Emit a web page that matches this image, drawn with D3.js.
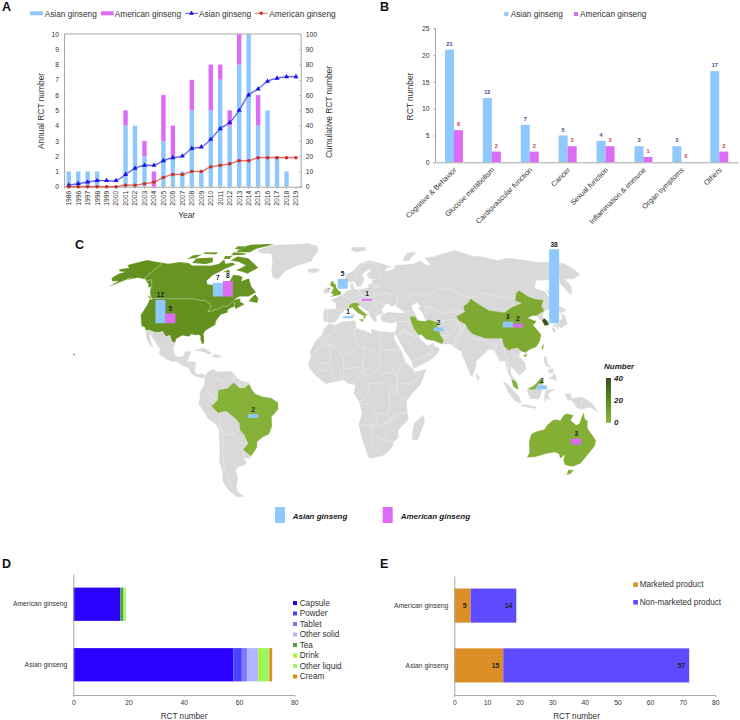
<!DOCTYPE html>
<html><head><meta charset="utf-8">
<script src="https://cdn.jsdelivr.net/npm/d3@7/dist/d3.min.js"></script>
<style>
html,body{margin:0;padding:0;background:#fff}
svg{display:block}
text{font-family:"Liberation Sans",Arial,sans-serif;fill:#333}
</style></head><body><svg id="c" width="740" height="720"></svg>
<script>
// ---------- Panel A data ----------
const years=["1986","1996","1997","1998","1999","2000","2001","2002","2003","2004","2005","2006","2007","2008","2009","2010","2011","2012","2013","2014","2015","2016","2017","2018","2019"];
const annualAsian=[1,1,1,1,0,0,4,4,2,0,3,2,1,5,1,5,7,4,8,10,4,5,2,1,0];
const annualAmerican=[0,0,0,0,0,0,1,0,1,1,3,2,0,2,0,3,1,1,2,0,2,0,0,0,0];
const cumAsian=[1,2,3,4,4,4,8,12,14,14,17,19,20,25,26,31,38,42,50,60,64,69,71,72,72];
const cumAmerican=[0,0,0,0,0,0,1,1,2,3,6,8,8,10,10,13,14,15,17,17,19,19,19,19,19];
// ---------- Panel B data ----------
const fields=["Cognitive & Behavior","Glucose metabolism","Cardiovascular function","Cancer","Sexual function","Inflammation & immune","Organ symptoms","Others"];
const fieldAsian=[21,12,7,5,4,3,3,17];
const fieldAmerican=[6,2,2,3,3,1,0,2];
// ---------- Panel C data ----------
const siteNames=["USA","Canada","UK","Italy","Italy ","Brazil","Iran","China","South Korea","Malaysia","Australia"];
const siteAsian=[12,7,5,1,0,2,2,3,38,2,0];
const siteAmerican=[5,8,0,0,1,0,0,2,0,0,3];
const siteLon=[-106.6,-77.1,2.9,5.9,18.7,-49.8,60.7,106.5,132.8,117.6,142.2];
const siteLat=[36,50.2,54.5,38.7,47.9,-13.6,31.8,33.8,36,1.4,-27.5];
// ---------- Panel D data ----------
const species=["American ginseng","Asian ginseng"];
const forms=["Capsule","Powder","Tablet","Other solid","Tea","Drink","Other liquid","Cream"];
const formAmerican=[17,0,0,0,1,0,1,0];
const formAsian=[58,3,2,4,0,1,3,1];
const formColors=["#2a00ff","#4b42ff","#7c7aff","#b2b5ff","#4f9e4a","#a6f51e","#9af763","#e08a20"];
// ---------- Panel E data ----------
const products=["Marketed product","Non-marketed product"];
const productAmerican=[5,14];
const productAsian=[15,57];
const productColors=["#dc8f26","#5f4bff"];
// ---------- Map outlines (lon, lat) ----------
const usa=[[-123,49],[-95.2,49],[-94.6,48.7],[-92,48.3],[-89.5,48],[-88.4,48.3],[-84.8,46.8],[-83.5,46],[-82.5,45.3],[-82.4,43],[-83,42],[-79,42.8],[-79,43.3],[-76.5,43.6],[-75,45],[-71.5,45],[-70.3,46.2],[-69.2,47.4],[-67.8,47],[-67,44.9],[-70,43.7],[-70.7,42.7],[-70,41.7],[-74,40.6],[-75.5,38],[-75.9,36.6],[-75.5,35.2],[-77.9,33.9],[-81,32],[-81.4,30.5],[-80.1,26.8],[-80.4,25.2],[-81.2,25.2],[-82.7,27.8],[-82.9,29.2],[-84.2,30],[-85.5,29.7],[-89,30.3],[-89.4,29],[-91,29.2],[-94,29.6],[-97.2,27.8],[-97.2,25.9],[-99.3,26.4],[-101.4,29.8],[-103.2,29],[-104.7,30],[-106.5,31.8],[-108.2,31.4],[-111,31.3],[-114.8,32.5],[-117.1,32.5],[-118.5,34],[-120.6,34.5],[-122,36.8],[-124.3,40.3],[-124.1,43],[-124,46.3],[-124.7,48.4]];
const alaska=[[-141,69.6],[-141,60.3],[-137,59],[-135,59.6],[-130,55.9],[-131.5,55],[-134,57],[-137,58.5],[-140,59.8],[-146,60.7],[-149,60],[-152,59.2],[-151,61],[-154,59],[-158,56.5],[-163,54.8],[-160,56],[-157.5,58.7],[-162,58.7],[-165,60.5],[-164,63],[-161,64],[-166,64.5],[-168,65.7],[-162,66.5],[-166.5,68.3],[-160,70.3],[-156.5,71.3],[-150,70.5]];
const hawaii=[[-156.2,20],[-154.8,19.8],[-155.6,18.9]];
const canada=[[-141,69.6],[-135,69],[-128,70],[-120,69.5],[-115,68],[-108,68],[-100,68],[-95,69],[-94,71.8],[-90,69],[-85,69.7],[-81.5,68.5],[-87,66],[-93,62],[-94.5,59],[-92.5,57],[-88,56.5],[-82.5,55],[-82,52.8],[-79.5,51.3],[-79,54.5],[-76.7,56.5],[-78,59],[-78,62.4],[-73,62],[-70,61],[-69.5,58.7],[-65,60.3],[-61,56],[-56,52.5],[-60,50.2],[-66,50.2],[-69,48.5],[-65,49.2],[-64.5,47.5],[-61,46],[-65.7,43.5],[-67,44.9],[-67.8,47],[-69.2,47.4],[-70.3,46.2],[-71.5,45],[-75,45],[-76.5,43.6],[-79,43.3],[-79,42.8],[-83,42],[-82.4,43],[-82.5,45.3],[-83.5,46],[-84.8,46.8],[-88.4,48.3],[-89.5,48],[-92,48.3],[-94.6,48.7],[-95.2,49],[-123,49],[-125,50],[-128,52.5],[-130,55],[-130,55.9],[-135,59.6],[-137,59],[-141,60.3]];
const canadaIslands=[
[[-62,66.5],[-68,63],[-72,64],[-78,65],[-73,68],[-80,70],[-88,71],[-85,73.7],[-75,72.5],[-68,69.5]],
[[-117,69.5],[-105,68.7],[-101,70],[-105,73],[-118,72.5]],
[[-125,72],[-119,72.5],[-117,75],[-124,74.5]],
[[-90,76.5],[-78,76.5],[-75,79],[-62,82.5],[-70,83],[-85,82.3],[-90,80]],
[[-92,74.5],[-80,74.7],[-80,75.7],[-92,76.5]],
[[-117,75.5],[-105,75],[-106,76.5],[-118,76.5]],
[[-95,79],[-87,78],[-87,81],[-95,81]],
[[-95,72],[-90,72],[-90,74],[-96,74]],
[[-87,64],[-81,63.5],[-84,65.5]],
[[-59,47.7],[-53,46.7],[-53,49],[-56,51.5],[-57.5,50]],
[[-128,50.7],[-123.5,48.4],[-125,50]]];
const mexicoCentral=[[-117.1,32.5],[-114.8,32.5],[-111,31.3],[-108.2,31.4],[-106.5,31.8],[-104.7,30],[-103.2,29],[-101.4,29.8],[-99.3,26.4],[-97.2,25.9],[-97.8,22.4],[-96,19],[-94,18.2],[-91,18.7],[-90.5,21],[-87,21.5],[-87.8,18.3],[-88.7,15.8],[-84,15.9],[-83.3,14.9],[-83.7,11],[-82,9],[-79.5,9.6],[-77.3,8.6],[-78,7.5],[-80,7.3],[-81.7,8],[-83,8.3],[-85.7,10],[-87.6,13],[-91.5,14],[-94.5,16.2],[-97,15.9],[-101.5,17.5],[-105.5,20],[-105.5,22.5],[-109,26],[-112.5,29.5],[-114.7,31.7],[-112,26.5],[-109.7,23],[-112,24.7],[-115,28]];
const greenland=[[-73,78.2],[-68,76],[-58,75.5],[-53,70],[-51,65],[-48,61],[-43.5,59.9],[-40,65],[-32,68],[-22,70.5],[-21,74],[-18,77],[-20,81],[-30,83.5],[-45,82.5],[-60,82],[-65,81],[-68,79.5]];
const southAmerica=[[-77.3,8.6],[-75.5,10.7],[-72,12],[-71.5,10.8],[-68,10.6],[-62,10.7],[-60,8.5],[-57,6],[-52,4.8],[-50,1],[-48,-1],[-44,-2.5],[-39,-3.2],[-35,-5.5],[-35,-9],[-39,-13],[-39,-18],[-41,-22],[-45,-23.7],[-48.5,-26],[-49,-29],[-53.4,-33.7],[-55,-35],[-58.4,-34.3],[-57,-36.5],[-58,-38.3],[-62,-39],[-65,-41],[-65,-45],[-68,-50],[-68.5,-53],[-65,-55],[-70,-55.5],[-74,-52],[-75.5,-47],[-73.5,-42],[-73.5,-37],[-71.5,-30],[-70.3,-20],[-71.5,-17.2],[-76,-14],[-81,-6],[-80,-2.5],[-80,0],[-78.5,2.5],[-77.5,4],[-77.5,7]];
const brazil=[[-51.6,4.2],[-50,1],[-48,-1],[-44,-2.5],[-39,-3.2],[-35,-5.5],[-35,-9],[-39,-13],[-39,-18],[-41,-22],[-45,-23.7],[-48.5,-26],[-49,-29],[-53.4,-33.7],[-57.5,-30.2],[-54,-27],[-54.6,-25.5],[-55.7,-22.4],[-58,-20],[-58,-16.3],[-60.3,-13.7],[-65.3,-10],[-70,-11],[-73.7,-7.5],[-70,-4.3],[-69.5,1],[-67,1.5],[-64,2],[-60.7,5],[-57,2],[-54,2.3]];
const africa=[[-5.9,35.8],[-2,35.1],[3,36.9],[10,37.3],[11,33.2],[15,32.3],[19.8,30.5],[20,32.8],[25,31.7],[32,31.2],[34.2,31.3],[33,28],[35.5,24],[37.2,21],[39.3,15.5],[43.2,12],[44,10.5],[51,11.9],[47.5,4],[42,-1.5],[39.3,-5],[40.7,-14.5],[35,-20],[35.5,-24],[32.7,-26],[32.5,-28.5],[28,-33],[20,-34.8],[18.4,-34],[15,-27],[11.8,-17],[13.8,-11],[12,-5],[9,-1],[9.7,3.8],[6,4.3],[3,6.4],[-3,5.2],[-7.5,4.4],[-13,8.5],[-17,12.5],[-17.5,14.7],[-16,19],[-17,21],[-13,27.5],[-9.8,30],[-9,33]];
const eurasia=[[-9,37],[-6,36.5],[-5.4,36],[-2,36.7],[0,38.7],[0.3,40],[3.2,41.9],[3.5,43.3],[6,43],[8.8,44.4],[10.3,43],[12.5,41.3],[15.7,40],[16,38],[16.9,39],[17,40.3],[18.5,40.2],[16,41.8],[13.5,43.6],[12.3,45.3],[13.7,45.7],[15,44.5],[19,42],[19.4,40.4],[21,38.3],[22.9,36.5],[24,37.8],[23,39.5],[26,40.8],[29,41.2],[26.5,40],[26.3,38.5],[27.5,36.8],[30.5,36.3],[33,36.2],[36,36.8],[35.8,34.5],[34.2,31.3],[34.9,29.5],[39,21.5],[42.7,16.5],[43.5,12.7],[45,12.8],[52,16],[55.2,17.5],[58.5,20.5],[59.8,22.5],[56.5,24.5],[56.3,26],[54,24.2],[51.6,25],[51,26],[50,26.5],[48,29.5],[50,30],[52.5,27.5],[56.5,27],[61.5,25.1],[67,25],[68.5,23.5],[72.7,21],[72.8,19],[74.5,14.5],[76.5,9],[77.5,8],[80.2,13.5],[80.3,15.8],[85,19.5],[88,21.8],[91,22.5],[92.3,20.7],[94.5,16],[97.5,16.5],[98.5,10],[100.5,6],[103.5,1.4],[104,2],[103,5.5],[100,9.5],[100.5,13.4],[103,11],[105,8.7],[109.2,12],[108.8,15.5],[105.8,19],[107.8,21.5],[110,20.5],[113,22.2],[117,23.5],[120,26.5],[122,30],[120.8,32.5],[119.3,35],[122.5,37],[120,38],[118,38.8],[121.5,40],[124.3,40],[125.3,37.7],[126.5,37.5],[126.3,34.7],[129.2,35.2],[129.4,37],[127.5,39.5],[129.8,41.5],[130.8,42.4],[135,43.5],[140.4,48.5],[140.5,53],[135.5,54.7],[142,59.2],[151,59.3],[155,59.5],[163,62],[156.7,57.5],[156,52],[156.7,51],[162.5,56.2],[163.5,59.8],[170,60],[179,62.5],[180,65],[180,69],[170,70],[160,69.7],[150,71.5],[140,72.7],[130,71],[120,73.5],[113,74],[105,77.7],[90,75.5],[80,73.5],[72,72.8],[73,68],[68,68.7],[67,71],[60,69],[54,68.5],[44,68],[44,66.5],[40,65],[35,64.3],[37,66.3],[41,67],[33,69.5],[25,71],[16,68.5],[12,65],[5,62],[5.5,59],[8,58],[10.8,59],[12.5,56.5],[13,55.4],[16.5,56.5],[18.5,60],[17.5,62.5],[21,64.5],[24,65.8],[25,65],[21.5,63],[21.5,61],[23,60],[29,60],[24,59.3],[24,57.5],[21,57],[21,55],[18.5,54.7],[14,54],[10.8,54],[10,57.5],[8.3,57],[8.7,54],[5,53],[3.5,51.3],[1.6,50.8],[-1.5,49.5],[-5,48.5],[-1.5,46.5],[-1.5,43.5],[-9,43.3],[-9.5,38.7]];
const greyIslands=[
[[-84.9,21.9],[-80,23],[-74.2,20.2],[-77.7,19.9],[-78,20.7]],
[[-74.4,18.5],[-72.8,19.9],[-68.4,18.6],[-71,18]],
[[49.3,-12],[50.4,-15.5],[47,-25],[44,-25],[43.5,-21],[44.5,-16.2]],
[[-10,52],[-6.2,52.2],[-6,53.5],[-5.5,54.5],[-8,55.2],[-10,54]],
[[-24,65.5],[-18,66.3],[-14,65],[-18,63.4],[-22.5,64]],
[[8.2,41],[9.7,41],[9.5,39],[8.5,39]],
[[109,1],[109.6,1.8],[113,3.3],[115.5,5.5],[117,7],[119,5.2],[117.8,1],[116,-3.7],[111,-3.5],[110,-1.5]],
[[95.3,5.6],[98,4],[104,-2],[106,-5.8],[102.3,-4.8],[98,0]],
[[105.3,-6.8],[108.5,-6.7],[114.5,-7.8],[114.5,-8.7],[106.5,-7.4]],
[[119.5,-5.5],[119,-2.5],[120,0.8],[125,1.5],[121,-1],[122.5,-4.5],[120.5,-3]],
[[131,-1],[134,-0.8],[135,-3.3],[141,-2.6],[147,-6],[150.7,-10.5],[146,-8],[141,-9],[138,-8],[135,-4.5],[132.5,-4]],
[[120.3,16],[120.7,18.5],[122.2,18.4],[122,15],[124,13],[120.7,13.8]],
[[122,7],[125.5,9.7],[126.5,7],[125.5,5.7],[124,7]],
[[122,11.7],[125,12.4],[125,10.3],[122.5,9.5]],
[[79.8,8.5],[80.2,9.8],[81.8,7.5],[80.6,6]],
[[130.9,34],[133,35.5],[136,35.8],[137.3,37.5],[139.5,38.5],[140.3,41.3],[141.5,40.5],[142,39.5],[141,37],[140.8,35.7],[138.5,34.7],[135.8,33.5],[135,34.6]],
[[130,33.5],[131.8,33.5],[131.4,31.4],[130.3,31.2]],
[[132.4,33.5],[134.5,34.2],[134.2,33.3]],
[[140,41.5],[141.5,45.4],[145.3,43.4],[143.2,42]],
[[142,46],[143.5,49],[143,54.3],[142,53.5]],
[[52,71],[57,70.7],[68,76.5],[60,76]],
[[12,78],[16,76.7],[25,78],[25,80],[12,80]]];
const water=[
[[28,41.5],[27.7,43],[30.5,46],[33,46],[33,45],[36,45],[38,47],[37,45],[41.5,42],[41.5,41.5],[36,41.5],[32,42],[29,41.2]],
[[47,45],[51,47],[53,45],[51,44.5],[53,41.5],[54,37],[50,37.3],[49,39],[47.5,43]]];
const uk=[[[-5.5,50],[1.4,51.2],[1.7,52.7],[0,53.5],[-1.5,55],[-2,57],[-4,57.8],[-3,58.6],[-5,58.6],[-6,56.5],[-3.3,54.8],[-4.5,53.2],[-5,51.7],[-3,51.4]],[[-7.5,55],[-5.5,54.5],[-7,54.1]]];
const italy=[[[6.7,45],[7,43.8],[8.8,44.4],[10.3,43],[12.5,41.3],[15.7,40],[16,38],[16.9,39],[17,40.3],[18.5,40.2],[16,41.8],[13.5,43.6],[12.3,45.3],[13.7,45.7],[13.5,46.5],[10.5,47],[8,46.3]],[[12.5,38],[15.6,38.2],[15.2,36.7]]];
const iran=[[44.5,39.5],[48,39.5],[49,37.5],[54,37],[56,38],[61,36.5],[60.7,33.5],[61.5,29.5],[63,27],[61.5,25.1],[56.5,27],[52.5,27.5],[50,30],[48,30],[46,33],[45,36]];
const china=[[[73.7,39.5],[80,42],[80.5,45],[85,47],[87.5,49.2],[91,46],[96,42.7],[105,41.7],[111.5,44.5],[119.5,46.7],[116,47.8],[120,52],[123.5,53.5],[127,50],[130.5,48.7],[135,48.3],[131,45],[130.8,42.4],[128,41.5],[124.3,40],[121.5,40],[118,38.8],[120,38],[122.5,37],[119.3,35],[120.8,32.5],[122,30],[120,26.5],[117,23.5],[113,22.2],[110,20.5],[107.8,21.5],[106,23],[102,22.5],[101,21.5],[98,24],[98,28],[92,28],[88,28],[81,30.3],[78.8,32.5],[78,35.5],[74.5,37.3]],[[108.7,19.3],[110.5,20],[111,19.6],[109.5,18.2]],[[120.2,23],[121.5,25.2],[121.8,24.6],[120.9,22]]];
const southKorea=[[126.2,37.7],[128.4,38.5],[129.4,37],[129.2,35.2],[126.3,34.7]];
const malaysia=[[[100.2,6.5],[102,6.2],[103.5,4.5],[104,1.5],[103,1.6],[101,3]],[[109.6,1.8],[113,3.3],[115.5,5.5],[117,7],[119,5.2],[117.5,4.2],[115.5,4],[114,1.5],[111,1]]];
const australia=[[[113.7,-22.5],[114.2,-21.8],[116.8,-20.6],[121,-19.6],[122.3,-17.3],[125.5,-14.5],[127.8,-14.5],[129.5,-15],[130.8,-12.5],[132.6,-11.3],[136.8,-12.2],[135.5,-14.8],[139.3,-17.4],[141,-16.5],[141.7,-12.9],[142.5,-10.7],[143.8,-14.3],[145.5,-15],[146.3,-19],[149.5,-22],[153.2,-25.5],[153.5,-28.5],[150.8,-35],[150,-37.5],[146.4,-39],[143.5,-38.8],[140.5,-38],[138.2,-35.5],[137.7,-33],[135.8,-34.8],[134,-32.5],[131,-31.5],[126,-32.3],[124,-33],[120,-34],[115.2,-34.3],[115.7,-31.8],[113.5,-26]],[[144.7,-40.8],[148.3,-40.9],[148,-43],[146,-43.5]]];
const borders=[
[[-72,12],[-72.5,7.5],[-67.5,6],[-67,1.5]],[[-80,-3.5],[-75.5,-1],[-70,-4.3]],[[-69,-11],[-69,-16],[-70,-18]],[[-70,-18],[-67.5,-22.8],[-63,-22],[-58,-20]],[[-69,-18],[-68.5,-24],[-70.5,-32],[-71.5,-40],[-72,-50],[-68.5,-52.5]],[[-62.5,-22],[-58,-27],[-54.6,-25.5]],[[-58,-34],[-58,-30.2]],[[-60.7,5],[-60,8.5]],[[-57,6],[-57,2]],[[-54,5.5],[-54,2.3]],[[-78,0.8],[-75,0],[-70,-4.3]],
[[25,31.7],[25,22]],[[25,22],[37,22]],[[24,20],[15,23],[12,23.5],[9.5,30],[10,33.5]],[[-8.7,27.5],[-5,25],[3,19],[12,23.5]],[[-8.7,27.5],[-13,27.5]],[[-1.5,32],[-2,35]],[[-8.7,28],[-1.5,32]],[[-17,21],[-13,21],[-13,23],[-5,25]],[[-12,15],[-5,15.5],[-5,25]],[[3,19],[3,12],[14,13],[15.5,23]],[[24,20],[24,13],[22,11],[15.5,8],[14,13]],[[24,10],[34,10],[37,15],[39,15]],[[3,6.4],[3,12]],[[9,4.3],[14,11]],[[15,4],[27,5]],[[12.5,-6],[17,-6],[22,-11],[28,-12],[30,-8],[29,-1],[31,3],[27,5]],[[13,-5],[17,-1],[18,3.5]],[[12,-17],[22,-18],[22,-11]],[[20,-18],[20,-28],[16.5,-28.5]],[[20,-22],[26,-25],[29,-22],[25,-18]],[[26,-25],[32,-26]],[[22,-18],[30,-15.5],[33,-9]],[[30,-15.5],[35,-11.5],[40.5,-10.5]],[[29,-1],[34,-1],[39.3,-4.7]],[[34,5],[36,4.5],[41,4],[47.5,8],[43,11]],[[31,3.5],[34,4.5],[34,-1]],[[-3,5],[-3,11],[-12,11.5]],[[1,6],[1,11]],[[34,10],[34,5]],
[[-1.5,43.3],[3,42.5]],[[2.5,51],[6,49.5],[8,49],[7.5,47.5],[6.8,46]],[[14,54],[15,51],[12.3,50.2],[13.8,48.6],[10,47.5],[7.5,47.5]],[[23.5,54],[24,50.5],[22.5,49],[15,51]],[[17,48],[22.5,48],[23,43.5]],[[24,50.5],[32,52],[40,50],[38,47]],[[23.5,54],[28,56],[32,52]],[[29,60],[31,63],[29,69.5],[25,69]],[[12.5,59],[12,61],[15,66],[20,69],[25,69]],[[19,42],[23,41.5],[26,41.5]],[[22.5,48],[28,46],[29.5,45]],[[-7,37],[-7,42]],[[36,36.8],[44.5,37]],[[41.5,41.5],[44.5,39.5]],[[47.5,43],[41.5,42]],[[21,57],[28,56]],
[[44.7,37],[42,34.5],[39,32.5],[46,29],[48,30]],[[36,29.5],[39,32],[46,29],[48,28.5]],[[43,16.5],[52,19],[55,22],[52,24.5]],[[52,19],[55,20],[56.3,25]],[[61,36.5],[66,37.5],[71,38],[74.5,37.3],[71,34],[66,29.5],[61,29.5]],[[74.5,37.3],[74,31],[70,27],[68.5,23.5]],[[47,50],[50,51.5],[61,51],[70,55],[77,54],[87.5,49.2]],[[53,41.5],[56,41],[56,45],[61,44],[66,41],[71,42],[80,42]],[[53.8,38],[61,36.5],[66,37.5]],[[87.5,49.2],[98,52],[107,50],[117,49.7],[116,47.8]],[[92.3,20.7],[94,25],[98,28]],[[98,24],[98,19],[99,15.5],[98.5,10]],[[101,21.5],[105,18],[107.5,15]],[[103,13.5],[107.5,14]],[[107.5,14],[106,10.5]],[[80,28.5],[88,26.5]],[[88,26],[92,25],[92.3,21]],[[78,35.5],[74,31]],[[141,-2.6],[141,-9]],[[-92,14.5],[-91,17.5],[-89,17.8]],[[124.3,40],[130,42.5]],[[126.2,37.7],[128.4,38.5]],[[-87.6,13],[-84,15.9]],[[-85.7,10],[-83.7,11]],
[[-141,69.6],[-141,60.3]]];

const svg=d3.select("#c");
const BLUE="#8ec8fc",PURPLE="#dc6cf5",AXIS="#a9a9a9",FS=6.8;
function letter(t,x,y){svg.append("text").attr("x",x).attr("y",y).attr("font-size",12.5).attr("font-weight","bold").style("fill","#111").text(t);}
function styleAxis(g,fs){g.select(".domain").attr("stroke",AXIS);g.selectAll(".tick line").attr("stroke",AXIS);g.selectAll("text").attr("font-size",fs||FS).style("fill","#333").attr("font-family","Liberation Sans, Arial, sans-serif");}
function label(x,y,t,size,opt={}){const s=svg.append("text").attr("x",x).attr("y",y).attr("font-size",size).attr("dominant-baseline","central").text(t);
 if(opt.anchor)s.attr("text-anchor",opt.anchor);if(opt.weight)s.attr("font-weight",opt.weight);if(opt.style)s.attr("font-style",opt.style);if(opt.rot)s.attr("transform",`rotate(${opt.rot} ${x} ${y})`);if(opt.fill)s.style("fill",opt.fill);return s;}

// ---------- A ----------
letter("A",2,11);
{const xA=d3.scaleBand().domain(years).range([64,300.7]);
 const yL=d3.scaleLinear().domain([0,10]).range([186.7,34]);
 const yR=d3.scaleLinear().domain([0,100]).range([186.7,34]);
 const rows=years.map((y,i)=>({y,a:annualAsian[i],b:annualAmerican[i]}));
 const st=d3.stack().keys(["a","b"])(rows);
 const bw=4.4;
 svg.append("g").selectAll("g").data(st).join("g").attr("fill",(d,i)=>[BLUE,PURPLE][i])
  .selectAll("rect").data(d=>d).join("rect").attr("x",d=>xA(d.data.y)+xA.bandwidth()/2-bw/2).attr("width",bw).attr("y",d=>yL(d[1])).attr("height",d=>yL(d[0])-yL(d[1]));
 svg.append("path").attr("d",`M64,34H300.7`).attr("stroke",AXIS).attr("fill","none");
 const gl=svg.append("g").attr("transform","translate(64,0)").call(d3.axisLeft(yL).ticks(10).tickSize(-1.5).tickPadding(5));styleAxis(gl);
 const gr=svg.append("g").attr("transform","translate(300.7,0)").call(d3.axisRight(yR).ticks(10).tickSize(-1.5).tickPadding(5));styleAxis(gr);
 const gx=svg.append("g").attr("transform","translate(0,186.7)").call(d3.axisBottom(xA).tickSize(2).tickPadding(2));styleAxis(gx);
 gx.selectAll("text").attr("transform","rotate(-90)").attr("text-anchor","end").attr("x",-4).attr("y",0).attr("dy","0.35em");
 const line=d3.line().x((d,i)=>xA(years[i])+xA.bandwidth()/2).y(d=>yR(d)).curve(d3.curveCatmullRom.alpha(0.5));
 [[cumAsian,"#2f2fe0","#1a12e8",d3.symbolTriangle],[cumAmerican,"#d4423a","#cc2a22",d3.symbolCircle]].forEach(([v,c,m,sym])=>{
  svg.append("path").attr("d",line(v)).attr("fill","none").attr("stroke",c).attr("stroke-opacity",.25).attr("stroke-width",2.2);
  svg.append("path").attr("d",line(v)).attr("fill","none").attr("stroke",c).attr("stroke-width",.8);
  svg.append("g").selectAll("path").data(v).join("path").attr("d",d3.symbol().type(sym).size(sym===d3.symbolCircle?9:11)).attr("fill",m)
   .attr("transform",(d,i)=>`translate(${xA(years[i])+xA.bandwidth()/2},${yR(d)})`);
 });
 svg.append("text").attr("transform","translate(40.7,111) rotate(-90)").attr("text-anchor","middle").attr("dominant-baseline","central").attr("font-size",8.4).text("Annual RCT number");
 svg.append("text").attr("transform","translate(329,112) rotate(-90)").attr("text-anchor","middle").attr("dominant-baseline","central").attr("font-size",8.4).text("Cumulative RCT number");
 label(186.7,215,"Year",8.4,{anchor:"middle"});
 svg.append("rect").attr("x",30).attr("y",11.3).attr("width",13).attr("height",4).attr("fill",BLUE);
 label(44.7,13.5,"Asian ginseng",8.3);
 svg.append("rect").attr("x",101).attr("y",11.3).attr("width",12.5).attr("height",4).attr("fill",PURPLE);
 label(114.7,13.5,"American ginseng",8.3);
 svg.append("path").attr("d","M185,13.3H198").attr("stroke","#2f2fe0").attr("stroke-width",.8);
 svg.append("path").attr("d",d3.symbol().type(d3.symbolTriangle).size(11)).attr("fill","#1a12e8").attr("transform","translate(191.5,13.3)");
 label(199,13.5,"Asian ginseng",8.3);
 svg.append("path").attr("d","M254.7,13.3H267.7").attr("stroke","#d4423a").attr("stroke-width",.8);
 svg.append("path").attr("d",d3.symbol().type(d3.symbolCircle).size(9)).attr("fill","#cc2a22").attr("transform","translate(261.2,13.3)");
 label(269.3,13.5,"American ginseng",8.3);
}
// ---------- B ----------
letter("B",380,11);
{const xB=d3.scaleBand().domain(fields).range([435,738.2]);
 const yB=d3.scaleLinear().domain([0,25]).range([162.3,28.3]);
 const bw=9;
 const groups=[[fieldAsian,BLUE,-bw,"#43438f"],[fieldAmerican,PURPLE,0,"#d0393c"]];
 groups.forEach(([v,c,off,tc])=>{
  svg.append("g").selectAll("rect").data(v).join("rect").attr("fill",c)
   .attr("x",(d,i)=>xB(fields[i])+xB.bandwidth()/2+off).attr("width",bw).attr("y",d=>yB(d)).attr("height",d=>yB(0)-yB(d));
  svg.append("g").selectAll("text").data(v).join("text").attr("font-size",5.6).attr("font-weight","bold").attr("text-anchor","middle").style("fill",tc)
   .attr("x",(d,i)=>xB(fields[i])+xB.bandwidth()/2+off+bw/2).attr("y",d=>yB(d)-4).text(d=>d);
 });
 const gy=svg.append("g").attr("transform","translate(435,0)").call(d3.axisLeft(yB).ticks(5).tickSize(1.5).tickPadding(4));styleAxis(gy);
 const gx=svg.append("g").attr("transform","translate(0,162.3)").call(d3.axisBottom(xB).tickSize(0).tickPadding(2));styleAxis(gx,7.3);
 gx.selectAll("text").attr("text-anchor","end").attr("dy",0).attr("y",0).attr("transform","translate(3,8) rotate(-45)");
 svg.append("text").attr("transform","translate(410,96.5) rotate(-90)").attr("text-anchor","middle").attr("dominant-baseline","central").attr("font-size",8.4).text("RCT number");
 svg.append("rect").attr("x",504.3).attr("y",12).attr("width",4).attr("height",4).attr("fill",BLUE);
 label(510.7,14,"Asian ginseng",8.3);
 svg.append("rect").attr("x",574).attr("y",12).attr("width",4).attr("height",4).attr("fill",PURPLE);
 label(580,14,"American ginseng",8.3);
}
// ---------- C ----------
letter("C",75,249);
{const knots=d3.range(0,95,5);
 const plen=d3.scaleLinear().domain(knots).range([1,.9986,.9954,.99,.9822,.973,.96,.9427,.9216,.8962,.8679,.835,.7986,.7597,.7186,.6732,.6213,.5722,.5322]);
 const pdfe=d3.scaleLinear().domain(knots).range([0,.062,.124,.186,.248,.31,.372,.434,.4958,.5571,.6176,.6769,.7346,.7903,.8435,.8936,.9394,.9761,1]);
 const X0=338.5,KX=1.73,Y0=392,KY=154;
 const proj=(lon,lat)=>[X0+KX*plen(Math.abs(lat))*lon,Y0-KY*Math.sign(lat)*pdfe(Math.abs(lat))];
 const tr=d3.geoTransform({point(lon,lat){const p=proj(lon,lat);this.stream.point(p[0],p[1]);}});
 const path=d3.geoPath(tr);
 const close=r=>r.concat([r[0]]);
 const poly=rings=>({type:"MultiPolygon",coordinates:rings.map(r=>[close(r)])});
 const color=d3.scaleLinear().domain([0,20,40]).range(["#8ab53a","#5d8a18","#37501d"]);
 const map=svg.append("g");
 const base=[mexicoCentral,greenland,southAmerica,africa,eurasia,...greyIslands];
 map.append("path").attr("d",path(poly(base))).attr("fill","#d9d9d9").attr("stroke","#d9d9d9").attr("stroke-width",.3);
 map.append("path").attr("d",path(poly(water))).attr("fill","#fff");
 map.append("path").attr("d",path({type:"MultiLineString",coordinates:borders})).attr("fill","none").attr("stroke","#f4f4f4").attr("stroke-width",.45);
 const total=n=>{let s=0;siteNames.forEach((k,i)=>{if(k.trim()===n)s+=siteAsian[i]+siteAmerican[i];});return s;};
 const countries=[["USA",[usa,alaska,hawaii]],["Canada",[canada,...canadaIslands]],["UK",uk],["Italy",italy],["Brazil",[brazil]],["Iran",[iran]],["China",china],["South Korea",[southKorea]],["Malaysia",malaysia],["Australia",australia]];
 countries.forEach(([n,r])=>map.append("path").attr("d",path(poly(r))).attr("fill",color(total(n))).attr("stroke","#e9efdd").attr("stroke-width",.2));
 const h=d3.scaleLinear().domain([0,38]).range([0,74]);
 const bw=10;
 siteNames.forEach((n,i)=>{
  const [px,py]=proj(siteLon[i],siteLat[i]);
  const both=siteAsian[i]>0&&siteAmerican[i]>0;
  [[siteAsian[i],BLUE,both?-bw:-bw/2],[siteAmerican[i],PURPLE,both?0:-bw/2]].forEach(([v,c,off])=>{
   if(!v)return;
   svg.append("rect").attr("x",px+off).attr("width",bw).attr("y",py-h(v)).attr("height",h(v)).attr("fill",c);
   svg.append("text").attr("x",px+off+bw/2).attr("y",py-h(v)-2.5).attr("text-anchor","middle").attr("font-size",6.6).attr("font-weight","bold").style("fill","#222").text(v);
  });
 });
 const defs=svg.append("defs");
 const lg=defs.append("linearGradient").attr("id","numGrad").attr("x1",0).attr("y1",1).attr("x2",0).attr("y2",0);
 color.domain().forEach(v=>lg.append("stop").attr("offset",v/40).attr("stop-color",color(v)));
 const yLeg=d3.scaleLinear().domain([0,40]).range([422.7,378]);
 svg.append("rect").attr("x",606).attr("y",yLeg(40)).attr("width",5).attr("height",yLeg(0)-yLeg(40)).attr("fill","url(#numGrad)");
 [0,20,40].forEach(v=>label(614,yLeg(v),v,8,{weight:"bold",style:"italic",fill:"#222"}));
 label(604,366,"Number",8,{weight:"bold",style:"italic",fill:"#222"});
 svg.append("rect").attr("x",275).attr("y",507).attr("width",10).attr("height",16).attr("fill",BLUE);
 label(292.7,516,"Asian ginseng",8,{weight:"bold",style:"italic",fill:"#222"});
 svg.append("rect").attr("x",382.7).attr("y",507).attr("width",10).attr("height",16).attr("fill",PURPLE);
 label(400.7,516,"American ginseng",8,{weight:"bold",style:"italic",fill:"#222"});
}
// ---------- D ----------
letter("D",2,568);
{const x=d3.scaleLinear().domain([0,80]).range([73.3,294.3]);
 const y=d3.scaleBand().domain(species).range([574,695]).paddingInner(.45).paddingOuter(.225);
 const rows=[formAmerican,formAsian].map((v,i)=>{const o={s:species[i]};forms.forEach((f,j)=>o[f]=v[j]);return o;});
 const st=d3.stack().keys(forms)(rows);
 svg.append("g").selectAll("g").data(st).join("g").attr("fill",(d,i)=>formColors[i]).selectAll("rect").data(d=>d).join("rect")
  .attr("x",d=>x(d[0])).attr("width",d=>x(d[1])-x(d[0])).attr("y",d=>y(d.data.s)).attr("height",y.bandwidth());
 const gx=svg.append("g").attr("transform","translate(0,695)").call(d3.axisBottom(x).ticks(4).tickSize(1.5).tickPadding(4));styleAxis(gx);
 const gy=svg.append("g").attr("transform","translate(73.3,0)").call(d3.axisLeft(y).tickSize(0).tickPadding(6));styleAxis(gy);
 label(184,716,"RCT number",8.2,{anchor:"middle"});
 forms.forEach((f,i)=>{
  svg.append("rect").attr("x",293).attr("y",601+i*10.5).attr("width",4).attr("height",4).attr("fill",formColors[i]);
  label(299.7,603+i*10.5,f,8.2);
 });
}
// ---------- E ----------
letter("E",380,568);
{const x=d3.scaleLinear().domain([0,80]).range([454.3,715.3]);
 const y=d3.scaleBand().domain(species).range([576,695]).paddingInner(.43).paddingOuter(.21);
 const rows=[productAmerican,productAsian].map((v,i)=>{const o={s:species[i]};products.forEach((f,j)=>o[f]=v[j]);return o;});
 const st=d3.stack().keys(products)(rows);
 st.forEach((ser,k)=>{
  const g=svg.append("g");
  g.selectAll("rect").data(ser).join("rect").attr("fill",productColors[k])
   .attr("x",d=>x(d[0])).attr("width",d=>x(d[1])-x(d[0])).attr("y",d=>y(d.data.s)).attr("height",y.bandwidth());
  g.selectAll("text").data(ser).join("text").attr("text-anchor","end").attr("dominant-baseline","central").attr("font-size",6.8).attr("font-weight","bold").style("fill","#222")
   .attr("x",d=>x(d[1])-4).attr("y",d=>y(d.data.s)+y.bandwidth()/2).text(d=>d[1]-d[0]);
 });
 const gx=svg.append("g").attr("transform","translate(0,695)").call(d3.axisBottom(x).ticks(8).tickSize(1.5).tickPadding(4));styleAxis(gx);
 const gy=svg.append("g").attr("transform","translate(454.3,0)").call(d3.axisLeft(y).tickSize(0).tickPadding(6));styleAxis(gy);
 label(576.5,716,"RCT number",8.2,{anchor:"middle"});
 products.forEach((f,i)=>{
  svg.append("rect").attr("x",633.3).attr("y",582.3+i*17.7).attr("width",4.6).attr("height",4.6).attr("fill",productColors[i]);
  label(639.7,584.3+i*17.7,f,8.2);
 });
}
</script></body></html>
